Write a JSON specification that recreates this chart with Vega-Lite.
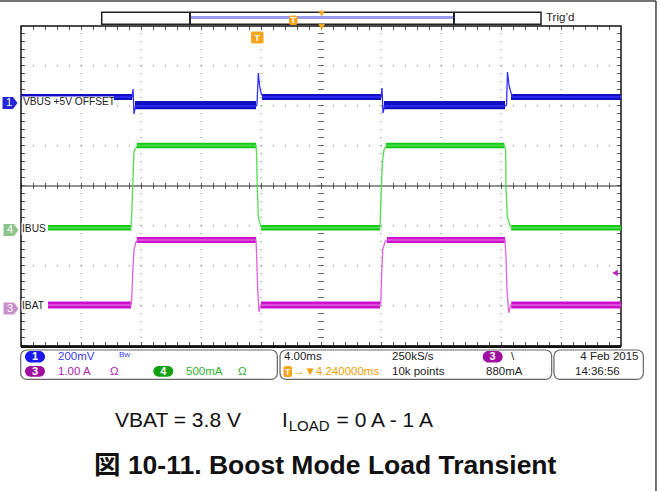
{
  "$schema": "https://vega.github.io/schema/vega-lite/v6.json",
  "width": 660,
  "height": 491,
  "autosize": "none",
  "padding": 0,
  "background": "white",
  "config": {"view": {"stroke": null}},
  "resolve": {"scale": {"color": "independent"}},
  "encoding": {
    "x": {"field": "x", "type": "quantitative", "scale": {"domain": [-0.35, 10.65], "nice": false, "zero": false}, "axis": null},
    "y": {"field": "y", "type": "quantitative", "scale": {"domain": [-7.625, 4.65], "nice": false, "zero": false}, "axis": null}
  },
  "layer": [
    {
      "data": {"values": [{"x": -0.35, "x2": 10.583, "y": 4.625}]},
      "mark": {"type": "rule", "stroke": "#444", "strokeWidth": 1.5},
      "encoding": {"x2": {"field": "x2"}}
    },
    {
      "data": {"values": [{"x": 10.583, "y": 4.625, "y2": -7.625}]},
      "mark": {"type": "rule", "stroke": "#444", "strokeWidth": 1.5},
      "encoding": {"y2": {"field": "y2"}}
    },
    {
      "data": {"values": [{"x": 0, "x2": 10, "y": -3}, {"x": 0, "x2": 10, "y": -2}, {"x": 0, "x2": 10, "y": -1}, {"x": 0, "x2": 10, "y": 1}, {"x": 0, "x2": 10, "y": 2}, {"x": 0, "x2": 10, "y": 3}]},
      "mark": {"type": "rule", "stroke": "#777", "strokeWidth": 1, "strokeDash": [1, 11]},
      "encoding": {"x2": {"field": "x2"}}
    },
    {
      "data": {"values": [{"x": 1, "y": -4, "y2": 4}, {"x": 2, "y": -4, "y2": 4}, {"x": 3, "y": -4, "y2": 4}, {"x": 4, "y": -4, "y2": 4}, {"x": 5, "y": -4, "y2": 4}, {"x": 6, "y": -4, "y2": 4}, {"x": 7, "y": -4, "y2": 4}, {"x": 8, "y": -4, "y2": 4}, {"x": 9, "y": -4, "y2": 4}]},
      "mark": {"type": "rule", "stroke": "#777", "strokeWidth": 1, "strokeDash": [1, 7]},
      "encoding": {"y2": {"field": "y2"}}
    },
    {
      "data": {"values": [{"x": 0, "x2": 10, "y": 0}]},
      "mark": {"type": "rule", "stroke": "#222", "strokeWidth": 1},
      "encoding": {"x2": {"field": "x2"}}
    },
    {
      "data": {"values": [{"x": 0, "x2": 10, "y": 0}]},
      "mark": {"type": "rule", "stroke": "#555", "strokeWidth": 6, "strokeDash": [1, 11]},
      "encoding": {"x2": {"field": "x2"}}
    },
    {
      "data": {"values": [{"x": 5, "y": -4, "y2": 4}]},
      "mark": {"type": "rule", "stroke": "#666", "strokeWidth": 6, "strokeDash": [1, 7]},
      "encoding": {"y2": {"field": "y2"}}
    },
    {
      "data": {"values": [{"x": 0, "x2": 10, "y": 3.95}, {"x": 0, "x2": 10, "y": -3.95}]},
      "mark": {"type": "rule", "stroke": "#555", "strokeWidth": 4, "strokeDash": [1, 11]},
      "encoding": {"x2": {"field": "x2"}}
    },
    {
      "data": {"values": [{"x": 0.033, "y": -4, "y2": 4}, {"x": 9.967, "y": -4, "y2": 4}]},
      "mark": {"type": "rule", "stroke": "#555", "strokeWidth": 4, "strokeDash": [1, 7]},
      "encoding": {"y2": {"field": "y2"}}
    },
    {
      "data": {"values": [{"x": 0, "x2": 10, "y": -4, "y2": 4}]},
      "mark": {"type": "rect", "fill": null, "fillOpacity": 0, "stroke": "#111", "strokeWidth": 1.5},
      "encoding": {"x2": {"field": "x2"}, "y2": {"field": "y2"}}
    },
    {
      "data": {"values": [{"x": 0, "x2": 10, "y": -4.02}]},
      "mark": {"type": "rule", "stroke": "#111", "strokeWidth": 2.5},
      "encoding": {"x2": {"field": "x2"}}
    },
    {
      "data": {"values": [
        {"ch": "CH1", "x": 0, "x2": 1.85, "y": 2.3, "y2": 2.15},
        {"ch": "CH1", "x": 1.9, "x2": 3.917, "y": 2.125, "y2": 1.92},
        {"ch": "CH1", "x": 4.017, "x2": 6.0, "y": 2.3, "y2": 2.15},
        {"ch": "CH1", "x": 6.05, "x2": 8.067, "y": 2.125, "y2": 1.92},
        {"ch": "CH1", "x": 8.167, "x2": 10, "y": 2.3, "y2": 2.15},
        {"ch": "CH4", "x": 0.45, "x2": 1.833, "y": -0.975, "y2": -1.113},
        {"ch": "CH4", "x": 1.93, "x2": 3.917, "y": 1.083, "y2": 0.943},
        {"ch": "CH4", "x": 4.0, "x2": 5.983, "y": -0.975, "y2": -1.113},
        {"ch": "CH4", "x": 6.08, "x2": 8.055, "y": 1.083, "y2": 0.943},
        {"ch": "CH4", "x": 8.17, "x2": 10, "y": -0.975, "y2": -1.113},
        {"ch": "CH3", "x": 0.45, "x2": 1.833, "y": -2.888, "y2": -3.063},
        {"ch": "CH3", "x": 1.93, "x2": 3.917, "y": -1.275, "y2": -1.425},
        {"ch": "CH3", "x": 4.0, "x2": 5.983, "y": -2.888, "y2": -3.063},
        {"ch": "CH3", "x": 6.1, "x2": 8.067, "y": -1.275, "y2": -1.425},
        {"ch": "CH3", "x": 8.17, "x2": 10, "y": -2.888, "y2": -3.063}
      ]},
      "mark": {"type": "rect", "opacity": 1},
      "encoding": {
        "x2": {"field": "x2"}, "y2": {"field": "y2"},
        "color": {"field": "ch", "type": "nominal", "scale": {"domain": ["CH1", "CH3", "CH4"], "range": ["#1010c0", "#cc10cc", "#18c818"]}, "legend": null}
      }
    },
    {
      "data": {"values": [
        {"ch": "CH1", "x": 0, "y": 2.225}, {"ch": "CH1", "x": 1.85, "y": 2.225}, {"ch": "CH1", "x": 1.867, "y": 2.425}, {"ch": "CH1", "x": 1.883, "y": 1.8}, {"ch": "CH1", "x": 1.908, "y": 2.0}, {"ch": "CH1", "x": 3.917, "y": 2.0}, {"ch": "CH1", "x": 3.933, "y": 2.025}, {"ch": "CH1", "x": 3.955, "y": 2.825}, {"ch": "CH1", "x": 3.975, "y": 2.525}, {"ch": "CH1", "x": 4.0, "y": 2.325}, {"ch": "CH1", "x": 4.033, "y": 2.225}, {"ch": "CH1", "x": 6.0, "y": 2.225}, {"ch": "CH1", "x": 6.017, "y": 2.45}, {"ch": "CH1", "x": 6.033, "y": 1.825}, {"ch": "CH1", "x": 6.058, "y": 2.0}, {"ch": "CH1", "x": 8.075, "y": 2.0}, {"ch": "CH1", "x": 8.092, "y": 2.025}, {"ch": "CH1", "x": 8.108, "y": 2.85}, {"ch": "CH1", "x": 8.133, "y": 2.525}, {"ch": "CH1", "x": 8.167, "y": 2.325}, {"ch": "CH1", "x": 8.2, "y": 2.225}, {"ch": "CH1", "x": 10, "y": 2.225},
        {"ch": "CH4", "x": 0.45, "y": -1.044}, {"ch": "CH4", "x": 1.833, "y": -1.044}, {"ch": "CH4", "x": 1.845, "y": -0.725}, {"ch": "CH4", "x": 1.862, "y": -0.018}, {"ch": "CH4", "x": 1.883, "y": 0.858}, {"ch": "CH4", "x": 1.928, "y": 0.983}, {"ch": "CH4", "x": 1.95, "y": 1.013}, {"ch": "CH4", "x": 3.917, "y": 1.013}, {"ch": "CH4", "x": 3.928, "y": 0.733}, {"ch": "CH4", "x": 3.938, "y": -0.018}, {"ch": "CH4", "x": 3.955, "y": -0.768}, {"ch": "CH4", "x": 3.995, "y": -1.0}, {"ch": "CH4", "x": 4.017, "y": -1.044}, {"ch": "CH4", "x": 5.983, "y": -1.044}, {"ch": "CH4", "x": 6.0, "y": -0.268}, {"ch": "CH4", "x": 6.022, "y": 0.575}, {"ch": "CH4", "x": 6.05, "y": 0.9}, {"ch": "CH4", "x": 6.095, "y": 1.013}, {"ch": "CH4", "x": 8.055, "y": 1.013}, {"ch": "CH4", "x": 8.078, "y": 0.9}, {"ch": "CH4", "x": 8.083, "y": -0.018}, {"ch": "CH4", "x": 8.105, "y": -0.768}, {"ch": "CH4", "x": 8.15, "y": -1.0}, {"ch": "CH4", "x": 8.183, "y": -1.044}, {"ch": "CH4", "x": 10, "y": -1.044},
        {"ch": "CH3", "x": 0.45, "y": -2.975}, {"ch": "CH3", "x": 1.833, "y": -2.975}, {"ch": "CH3", "x": 1.845, "y": -2.85}, {"ch": "CH3", "x": 1.862, "y": -2.175}, {"ch": "CH3", "x": 1.883, "y": -1.6}, {"ch": "CH3", "x": 1.917, "y": -1.393}, {"ch": "CH3", "x": 1.95, "y": -1.35}, {"ch": "CH3", "x": 3.917, "y": -1.35}, {"ch": "CH3", "x": 3.928, "y": -1.768}, {"ch": "CH3", "x": 3.945, "y": -2.6}, {"ch": "CH3", "x": 3.967, "y": -3.143}, {"ch": "CH3", "x": 3.995, "y": -2.975}, {"ch": "CH3", "x": 5.983, "y": -2.975}, {"ch": "CH3", "x": 5.995, "y": -2.933}, {"ch": "CH3", "x": 6.012, "y": -2.175}, {"ch": "CH3", "x": 6.028, "y": -1.6}, {"ch": "CH3", "x": 6.067, "y": -1.393}, {"ch": "CH3", "x": 6.1, "y": -1.35}, {"ch": "CH3", "x": 8.067, "y": -1.35}, {"ch": "CH3", "x": 8.083, "y": -1.768}, {"ch": "CH3", "x": 8.1, "y": -2.6}, {"ch": "CH3", "x": 8.128, "y": -3.168}, {"ch": "CH3", "x": 8.162, "y": -2.975}, {"ch": "CH3", "x": 10, "y": -2.975}
      ]},
      "mark": {"type": "line", "strokeWidth": 1.3, "interpolate": "linear"},
      "encoding": {
        "color": {"field": "ch", "type": "nominal", "scale": {"domain": ["CH1", "CH3", "CH4"], "range": ["#3030ff", "#e060e0", "#50dd50"]}, "legend": null}
      }
    },
    {
      "data": {"values": [
        {"x": 0.017, "x2": 1.55, "y": 2.238, "y2": 1.95},
        {"x": 0.008, "x2": 0.433, "y": -0.925, "y2": -1.225},
        {"x": 0.008, "x2": 0.433, "y": -2.838, "y2": -3.138}
      ]},
      "mark": {"type": "rect", "fill": "white", "opacity": 1},
      "encoding": {"x2": {"field": "x2"}, "y2": {"field": "y2"}}
    },
    {
      "data": {"values": [
        {"x": 0.033, "y": 2.09, "t": "VBUS +5V OFFSET"},
        {"x": 0.017, "y": -1.075, "t": "IBUS"},
        {"x": 0.017, "y": -2.988, "t": "IBAT"}
      ]},
      "mark": {"type": "text", "align": "left", "baseline": "middle", "font": "Liberation Sans", "fontSize": 10.2, "fill": "#222"},
      "encoding": {"text": {"field": "t"}}
    },
    {
      "data": {"values": [
        {"x": 8.75, "y": 4.19, "t": "Trig’d"},
        {"x": 4.383, "y": -4.2625, "t": "4.00ms"},
        {"x": 6.183, "y": -4.2625, "t": "250kS/s"},
        {"x": 8.167, "y": -4.2625, "t": "\\"},
        {"x": 6.183, "y": -4.6375, "t": "10k points"},
        {"x": 7.75, "y": -4.6375, "t": "880mA"},
        {"x": 9.233, "y": -4.6375, "t": "14:36:56"}
      ]},
      "mark": {"type": "text", "align": "left", "baseline": "middle", "font": "Liberation Sans", "fontSize": 11.5, "fill": "#222"},
      "encoding": {"text": {"field": "t"}}
    },
    {
      "data": {"values": [{"x": 10.292, "y": -4.2625, "t": "4 Feb  2015"}]},
      "mark": {"type": "text", "align": "right", "baseline": "middle", "font": "Liberation Sans", "fontSize": 11.5, "fill": "#222"},
      "encoding": {"text": {"field": "t"}}
    },
    {
      "data": {"values": [
        {"x": 0.617, "y": -4.2625, "t": "200mV", "c": "CH1"},
        {"x": 0.617, "y": -4.6375, "t": "1.00 A", "c": "CH3"},
        {"x": 1.483, "y": -4.6375, "t": "Ω", "c": "CH3"},
        {"x": 2.75, "y": -4.6375, "t": "500mA", "c": "CH4"},
        {"x": 3.617, "y": -4.6375, "t": "Ω", "c": "CH4"},
        {"x": 4.533, "y": -4.6375, "t": "→▼4.240000ms", "c": "TRIG"}
      ]},
      "mark": {"type": "text", "align": "left", "baseline": "middle", "font": "Liberation Sans", "fontSize": 11.5},
      "encoding": {
        "text": {"field": "t"},
        "color": {"field": "c", "type": "nominal", "scale": {"domain": ["CH1", "CH3", "CH4", "TRIG"], "range": ["#3a3af0", "#b020b0", "#30b030", "#f0a000"]}, "legend": null}
      }
    },
    {
      "data": {"values": [{"x": 1.633, "y": -4.22, "t": "Bw"}]},
      "mark": {"type": "text", "align": "left", "baseline": "middle", "font": "Liberation Sans", "fontSize": 8, "fill": "#3a3af0"},
      "encoding": {"text": {"field": "t"}}
    },
    {
      "data": {"values": [
        {"x": -0.183, "y": 2.075, "ch": "CH1"},
        {"x": -0.167, "y": -1.1, "ch": "CH4"},
        {"x": -0.167, "y": -3.063, "ch": "CH3"}
      ]},
      "mark": {"type": "point", "shape": "M-1,-0.8L0.4,-0.8L1,0L0.4,0.8L-1,0.8Z", "size": 225, "filled": true, "opacity": 1},
      "encoding": {
        "color": {"field": "ch", "type": "nominal", "scale": {"domain": ["CH1", "CH3", "CH4"], "range": ["#2424d8", "#c890c8", "#8cc48c"]}, "legend": null}
      }
    },
    {
      "data": {"values": [
        {"x": -0.2, "y": 2.075, "t": "1"},
        {"x": -0.183, "y": -1.1, "t": "4"},
        {"x": -0.183, "y": -3.063, "t": "3"}
      ]},
      "mark": {"type": "text", "align": "center", "baseline": "middle", "font": "Liberation Sans", "fontSize": 11, "fill": "#ffffff"},
      "encoding": {"text": {"field": "t"}}
    },
    {
      "data": {"values": [{"x": 1.345, "x2": 8.667, "y": 4.343, "y2": 4.043}]},
      "mark": {"type": "rect", "fill": "white", "stroke": "#222", "strokeWidth": 1.5},
      "encoding": {"x2": {"field": "x2"}, "y2": {"field": "y2"}}
    },
    {
      "data": {"values": [{"x": 2.817, "x2": 7.217, "y": 4.2125}]},
      "mark": {"type": "rule", "stroke": "#9a9af0", "strokeWidth": 3},
      "encoding": {"x2": {"field": "x2"}}
    },
    {
      "data": {"values": [{"x": 2.817, "y": 4.343, "y2": 4.043}, {"x": 7.217, "y": 4.343, "y2": 4.043}]},
      "mark": {"type": "rule", "stroke": "#222", "strokeWidth": 2},
      "encoding": {"y2": {"field": "y2"}}
    },
    {
      "data": {"values": [
        {"x": 4.467, "x2": 4.608, "y": 4.263, "y2": 4.025},
        {"x": 3.833, "x2": 4.042, "y": 3.8625, "y2": 3.5625},
        {"x": 4.375, "x2": 4.517, "y": -4.5, "y2": -4.775}
      ]},
      "mark": {"type": "rect", "fill": "#f5a41c", "cornerRadius": 2},
      "encoding": {"x2": {"field": "x2"}, "y2": {"field": "y2"}}
    },
    {
      "data": {"values": [
        {"x": 4.5375, "y": 4.144, "t": "T"},
        {"x": 3.9375, "y": 3.712, "t": "T"},
        {"x": 4.446, "y": -4.6375, "t": "T"}
      ]},
      "mark": {"type": "text", "align": "center", "baseline": "middle", "font": "Liberation Sans", "fontWeight": "bold", "fontSize": 9, "fill": "#ffffff"},
      "encoding": {"text": {"field": "t"}}
    },
    {
      "data": {"values": [{"x": 5.011, "y": 4.31}, {"x": 5.011, "y": 3.975}]},
      "mark": {"type": "point", "shape": "triangle-down", "size": 45, "filled": true, "fill": "#f5a41c", "opacity": 1}
    },
    {
      "data": {"values": [{"x": 9.9, "y": -2.175}]},
      "mark": {"type": "point", "shape": "triangle-left", "size": 45, "filled": true, "fill": "#c020c0", "opacity": 1}
    },
    {
      "data": {"values": [
        {"x": -0.005, "x2": 4.272, "y": -4.1, "y2": -4.833},
        {"x": 4.317, "x2": 8.845, "y": -4.1, "y2": -4.833},
        {"x": 8.883, "x2": 10.372, "y": -4.1, "y2": -4.833}
      ]},
      "mark": {"type": "rect", "fillOpacity": 0, "stroke": "#666", "strokeWidth": 1.2, "cornerRadius": 6},
      "encoding": {"x2": {"field": "x2"}, "y2": {"field": "y2"}}
    },
    {
      "data": {"values": [
        {"x": 0.067, "x2": 0.4, "y": -4.125, "y2": -4.4125, "ch": "CH1"},
        {"x": 0.067, "x2": 0.4, "y": -4.5, "y2": -4.7675, "ch": "CH3"},
        {"x": 2.205, "x2": 2.538, "y": -4.5, "y2": -4.7675, "ch": "CH4"},
        {"x": 7.695, "x2": 8.028, "y": -4.125, "y2": -4.4125, "ch": "CH3"}
      ]},
      "mark": {"type": "rect", "cornerRadius": 6, "opacity": 1},
      "encoding": {
        "x2": {"field": "x2"}, "y2": {"field": "y2"},
        "color": {"field": "ch", "type": "nominal", "scale": {"domain": ["CH1", "CH3", "CH4"], "range": ["#1a1aee", "#a010a0", "#10a010"]}, "legend": null}
      }
    },
    {
      "data": {"values": [
        {"x": 0.233, "y": -4.2625, "t": "1"},
        {"x": 0.233, "y": -4.6375, "t": "3"},
        {"x": 2.371, "y": -4.6375, "t": "4"},
        {"x": 7.861, "y": -4.2625, "t": "3"}
      ]},
      "mark": {"type": "text", "align": "center", "baseline": "middle", "font": "Liberation Sans", "fontWeight": "bold", "fontSize": 11, "fill": "#ffffff"},
      "encoding": {"text": {"field": "t"}}
    },
    {
      "data": {"values": [
        {"x": 1.567, "y": -6.025, "t": "VBAT = 3.8 V"},
        {"x": 4.35, "y": -6.025, "t": "I"},
        {"x": 5.26, "y": -6.025, "t": "= 0 A - 1 A"}
      ]},
      "mark": {"type": "text", "align": "left", "baseline": "alphabetic", "font": "Liberation Sans", "fontSize": 21, "fill": "#111"},
      "encoding": {"text": {"field": "t"}}
    },
    {
      "data": {"values": [{"x": 4.462, "y": -6.125, "t": "LOAD"}]},
      "mark": {"type": "text", "align": "left", "baseline": "alphabetic", "font": "Liberation Sans", "fontSize": 15, "fill": "#111"},
      "encoding": {"text": {"field": "t"}}
    },
    {
      "data": {"values": [{"x": 1.217, "y": -7.1875, "t": "図 10-11. Boost Mode Load Transient"}]},
      "mark": {"type": "text", "align": "left", "baseline": "alphabetic", "font": "Liberation Sans, Noto Sans CJK JP", "fontWeight": "bold", "fontSize": 26.5, "fill": "#111"},
      "encoding": {"text": {"field": "t"}}
    }
  ]
}
